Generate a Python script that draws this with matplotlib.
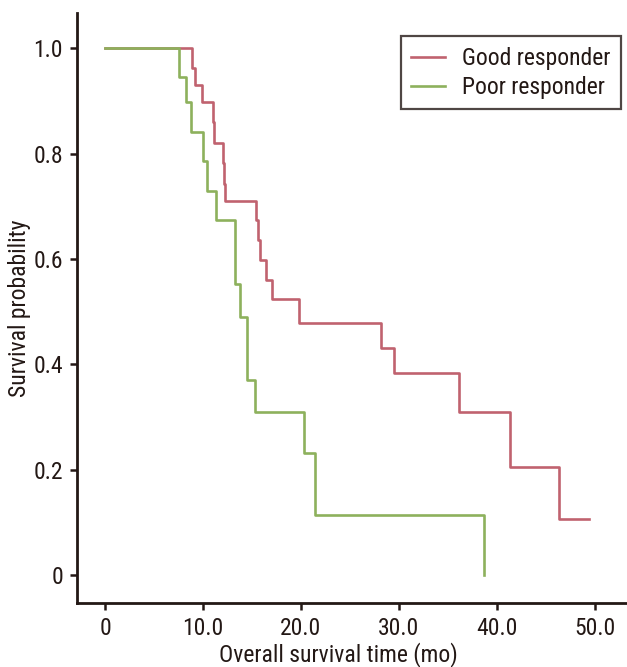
import matplotlib
matplotlib.use("Agg")
import matplotlib.pyplot as plt
from matplotlib import font_manager

# ---- data ----
good_time = [0, 8.85, 9.2, 9.87, 10.99, 11.15, 12.0, 12.2, 12.3, 15.4, 15.6, 15.8, 16.4, 17.1, 19.8, 28.2, 29.5, 36.1, 41.4, 46.4, 49.4]
good_surv = [1.0, 0.963, 0.930, 0.898, 0.860, 0.820, 0.782, 0.742, 0.710, 0.674, 0.636, 0.598, 0.561, 0.524, 0.479, 0.431, 0.384, 0.309, 0.206, 0.106, 0.106]

poor_time = [0, 7.6, 8.3, 8.8, 10.0, 10.4, 11.3, 13.3, 13.8, 14.5, 15.3, 20.3, 21.4, 38.7]
poor_surv = [1.0, 0.946, 0.898, 0.841, 0.787, 0.729, 0.675, 0.552, 0.490, 0.370, 0.309, 0.231, 0.115, 0.0]

x_ticks = [0, 10, 20, 30, 40, 50]
x_tick_labels = ["0", "10.0", "20.0", "30.0", "40.0", "50.0"]
y_ticks = [0, 0.2, 0.4, 0.6, 0.8, 1.0]
y_tick_labels = ["0", "0.2", "0.4", "0.6", "0.8", "1.0"]

names = {f.name for f in font_manager.fontManager.ttflist}
cands = ["Roboto Condensed", "Archivo Narrow", "PT Sans Narrow", "Barlow Semi Condensed", "Asap Condensed"]
fam = [f for f in cands if f in names][:1] + ["DejaVu Sans"]
plt.rcParams['font.family'] = fam

RED = "#c0626f"
GREEN = "#8db15c"
INK = "#231815"

fig = plt.figure(figsize=(6.27, 6.67), dpi=100)
ax = fig.add_axes([0.1228, 0.096, 0.8772, 0.885])

ax.step(good_time, good_surv, where="post", color=RED, lw=1.9, label="Good responder")
ax.step(poor_time, poor_surv, where="post", color=GREEN, lw=1.9, label="Poor responder")

ax.set_xlim(-2.86, 53.3)
ax.set_ylim(-0.053, 1.068)
ax.set_xticks(x_ticks)
ax.set_xticklabels(x_tick_labels)
ax.set_yticks(y_ticks)
ax.set_yticklabels(y_tick_labels)

for s in ["top", "right"]:
    ax.spines[s].set_visible(False)
for s in ["left", "bottom"]:
    ax.spines[s].set_linewidth(2.0)
    ax.spines[s].set_color(INK)

ax.tick_params(axis="both", direction="out", length=5, width=1.8, color=INK,
               labelsize=17, labelcolor=INK, pad=5)

ax.set_xlabel("Overall survival time (mo)", fontsize=17, color=INK)
ax.xaxis.set_label_coords(0.475, -0.066)
ax.set_ylabel("Survival probability", fontsize=17, color=INK)
ax.yaxis.set_label_coords(-0.083, 0.5)

leg = ax.legend(loc="upper right", bbox_to_anchor=(0.989, 0.96), fontsize=17,
                frameon=True, fancybox=False, handlelength=1.45, handletextpad=0.7,
                borderpad=0.45, labelspacing=0.25, borderaxespad=0)
leg.get_frame().set_edgecolor(INK)
leg.get_frame().set_linewidth(1.6)
for t in leg.get_texts():
    t.set_color(INK)

fig.savefig("out.png", dpi=100)
